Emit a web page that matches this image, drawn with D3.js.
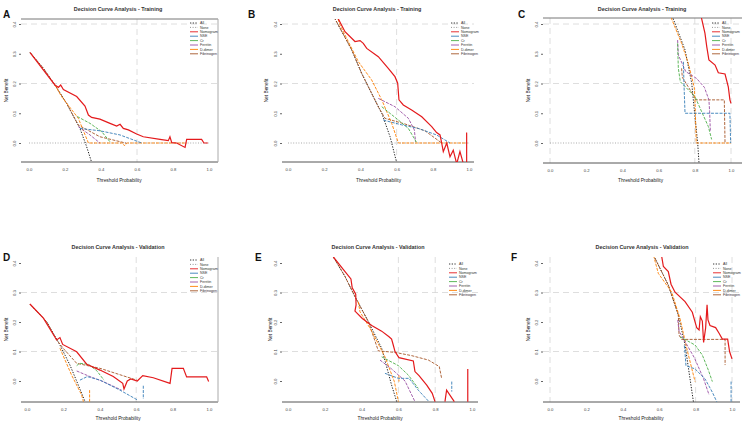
<!DOCTYPE html>
<html>
<head>
<meta charset="utf-8">
<script src="https://cdn.jsdelivr.net/npm/d3@7"></script>
<style>
body { margin: 0; background: #fff; }
svg { display: block; font-family: "Liberation Sans", Arial, sans-serif; }
</style>
</head>
<body>
<script>
// threshold probability / net benefit pairs, null = gap in the curve
var seriesNames = ['All', 'None', 'Nomogram', 'NSE', 'Cr', 'Ferritin', 'D-dimer', 'Fibrinogen'];
var xTicks = [0, 0.2, 0.4, 0.6, 0.8, 1.0];
var yTicks = [0, 0.1, 0.2, 0.3, 0.4];
var titleTrain = 'Decision Curve Analysis - Training';
var titleValid = 'Decision Curve Analysis - Validation';

var curvesA = {
    All: [[0.006,0.304],[0.080,0.251],[0.144,0.195],[0.209,0.133],[0.283,0.049],[0.320,-0.012],[0.348,-0.065]],
    None: [[0,0],[1,0]],
    Nomogram: [[0.006,0.304],[0.144,0.195],[0.163,0.187],[0.176,0.195],[0.191,0.180],[0.265,0.156],[0.311,0.124],[0.330,0.094],[0.348,0.086],[0.394,0.080],[0.450,0.066],[0.487,0.057],[0.506,0.063],[0.524,0.049],[0.552,0.044],[0.598,0.030],[0.635,0.021],[0.728,0.012],[0.774,0.008],[0.783,0.021],[0.793,0.001],[0.820,0],[0.867,-0.015],[0.876,0.012],[0.959,0.012],[0.972,0],[0.994,0]],
    NSE: [[0.283,0.049],[0.394,0.041],[0.506,0.027],[0.626,0]],
    Cr: [[0.268,0.089],[0.339,0.066],[0.404,0.038],[0.450,0.004]],
    Ferritin: [[0.274,0.055],[0.339,0.027],[0.394,0]],
    'D-dimer': [[0.144,0.195],[0.181,0.156],[0.274,0.083],[0.330,0],[0.520,0],[0.530,-0.009],[0.545,0],[0.876,0]],
    Fibrinogen: [[0.006,0.304],[0.080,0.251],[0.144,0.195],[0.209,0.133],[0.274,0.060],[0.394,0.021],[0.543,-0.001]]
};

var curvesB = {
    All: [[0.200,0.470],[0.260,0.417],[0.352,0.313],[0.407,0.234],[0.462,0.167],[0.518,0.100],[0.564,0.021],[0.600,-0.065]],
    None: [[0,0],[1,0]],
    Nomogram: [[0.270,0.450],[0.278,0.417],[0.315,0.374],[0.370,0.341],[0.398,0.344],[0.416,0.335],[0.435,0.318],[0.499,0.290],[0.554,0.251],[0.591,0.223],[0.606,0.201],[0.613,0.145],[0.637,0.128],[0.683,0.111],[0.739,0.088],[0.794,0.055],[0.821,0.035],[0.840,0.027],[0.849,0],[0.858,-0.029],[0.877,0],[0.895,-0.046],[0.913,-0.024],[0.932,-0.070],[0.950,-0.029],[0.969,-0.070],[0.987,-0.070],[0.987,0.033],[0.990,0.033]],
    NSE: [[0.527,0.077],[0.628,0.061],[0.720,0.049],[0.821,0.027],[0.895,0]],
    Cr: [[0.518,0.122],[0.610,0.077],[0.665,0.049],[0.711,0.001]],
    Ferritin: [[0.499,0.150],[0.591,0.122],[0.665,0.083],[0.698,0.044],[0.705,0.004]],
    'D-dimer': [[0.270,0.430],[0.287,0.397],[0.389,0.273],[0.462,0.212],[0.518,0.145],[0.573,0.066],[0.610,0],[0.990,0]],
    Fibrinogen: [[0.200,0.470],[0.260,0.417],[0.352,0.313],[0.407,0.234],[0.462,0.167],[0.500,0.120],[0.536,0.083],[0.646,0.064],[0.757,0.041],[0.849,0]]
};

var curvesC = {
    All: [[0.650,0.460],[0.681,0.417],[0.746,0.313],[0.783,0.201],[0.801,0.088],[0.816,0],[0.823,-0.065]],
    None: [[0,0],[1,0]],
    Nomogram: [[0.830,0.450],[0.838,0.417],[0.856,0.369],[0.866,0.324],[0.878,0.279],[0.912,0.262],[0.930,0.236],[0.967,0.232],[0.985,0.189],[0.994,0.145],[1.0,0.133]],
    NSE: [[0.737,0.273],[0.740,0.201],[0.746,0.100],[0.994,0.100],[0.998,0]],
    Cr: [[0.705,0.335],[0.709,0.251],[0.720,0.206],[0.801,0.156],[0.838,0.105],[0.875,0.055],[0.893,0.012]],
    Ferritin: [[0.705,0.346],[0.709,0.296],[0.750,0.240],[0.810,0.217],[0.853,0.187],[0.878,0.145],[0.882,0.105],[0.886,0.038]],
    'D-dimer': [[0.660,0.450],[0.672,0.417],[0.727,0.335],[0.764,0.268],[0.797,0.187],[0.801,0.145],[0.808,0],[1.0,0]],
    Fibrinogen: [[0.727,0.251],[0.731,0.221],[0.797,0.156],[0.805,0.145],[0.963,0.145],[0.967,0]]
};

var curvesD = {
    All: [[0.016,0.261],[0.108,0.201],[0.181,0.122],[0.236,0.054],[0.282,-0.014],[0.319,-0.070]],
    Nomogram: [[0.016,0.261],[0.090,0.213],[0.163,0.139],[0.181,0.147],[0.196,0.124],[0.273,0.099],[0.328,0.057],[0.401,0.037],[0.474,0.015],[0.526,-0.008],[0.533,-0.027],[0.551,0],[0.570,0.007],[0.606,0],[0.636,0.018],[0.694,0.011],[0.786,-0.008],[0.797,0.043],[0.859,0.043],[0.877,0.014],[0.987,0.014],[0.998,-0.002]],
    NSE: [[0.291,0.003],[0.331,0.015],[0.401,0.003],[0.511,-0.031],[0.606,-0.064],null,[0.639,-0.016],[0.639,-0.061]],
    Cr: [[0.273,0.052],[0.288,0.060],[0.337,0.057],[0.383,0.035],[0.423,0.003]],
    Ferritin: [[0.273,0.034],[0.346,0.015],[0.419,-0.002],[0.520,-0.031]],
    'D-dimer': [[0.181,0.111],[0.245,0.020],[0.300,-0.047],[0.310,-0.070],null,[0.344,-0.031],[0.344,-0.070]],
    Fibrinogen: [[0.016,0.261],[0.108,0.201],[0.163,0.139],[0.200,0.110],[0.273,0.060],[0.401,0.043],[0.603,0.003]]
};

var curvesE = {
    All: [[0.220,0.460],[0.246,0.421],[0.310,0.354],[0.364,0.286],[0.437,0.201],[0.509,0.111],[0.563,-0.014],[0.591,-0.070]],
    Nomogram: [[0.246,0.421],[0.310,0.371],[0.342,0.346],[0.349,0.316],[0.368,0.294],[0.370,0.258],[0.364,0.237],[0.404,0.212],[0.455,0.188],[0.509,0.169],[0.549,0.150],[0.563,0.142],[0.572,0.122],[0.582,0.099],[0.603,0.079],[0.681,0.068],[0.690,0.032],[0.712,0.018],[0.754,-0.014],[0.784,-0.042],[0.799,-0.070],null,[0.853,-0.070],[0.862,-0.031],[0.890,-0.057],[0.904,-0.070],null,[0.977,-0.070],[0.977,0.041]],
    NSE: [[0.527,0.026],[0.600,0.009],[0.658,0.009],[0.708,-0.031],[0.766,-0.070],null,[0.890,-0.002],[0.890,-0.036]],
    Cr: [[0.509,0.082],[0.600,0.052],[0.654,0.020],[0.708,-0.025]],
    Ferritin: [[0.500,0.071],[0.563,0.041],[0.636,0],[0.690,-0.070]],
    'D-dimer': [[0.382,0.269],[0.391,0.235],[0.455,0.169],[0.527,0.082],[0.578,-0.002],[0.600,-0.070],null,[0.603,0.020],[0.603,-0.002]],
    Fibrinogen: [[0.220,0.460],[0.246,0.421],[0.310,0.354],[0.364,0.286],[0.437,0.201],[0.491,0.102],[0.582,0.097],[0.672,0.086],[0.763,0.071],[0.822,0.049],[0.835,0.009]]
};

var curvesF = {
    All: [[0.550,0.460],[0.577,0.416],[0.650,0.325],[0.705,0.224],[0.742,0.122],[0.769,0.009],[0.788,-0.070]],
    Nomogram: [[0.610,0.440],[0.614,0.421],[0.623,0.388],[0.650,0.371],[0.665,0.328],[0.687,0.301],[0.742,0.269],[0.782,0.233],[0.806,0.181],[0.819,0.173],[0.826,0.218],[0.837,0.203],[0.844,0.131],[0.855,0.179],[0.863,0.258],[0.868,0.207],[0.879,0.188],[0.910,0.181],[0.929,0.162],[0.947,0.142],[0.976,0.142],[0.987,0.099],[1.0,0.075]],
    NSE: [[0.738,0.120],[0.742,0.094],[0.747,0.052],[0.797,0.041],[0.852,0.007],[0.892,-0.038],[0.916,-0.070],null,[0.995,-0.002],[0.995,-0.070]],
    Cr: [[0.714,0.150],[0.797,0.122],[0.837,0.088],[0.870,0.037],[0.892,-0.002]],
    Ferritin: [[0.702,0.207],[0.709,0.169],[0.793,0.079],[0.843,0.009],[0.874,-0.047]],
    'D-dimer': [[0.565,0.440],[0.573,0.416],[0.595,0.365],[0.669,0.301],[0.714,0.212],[0.756,0.099],[0.797,-0.002]],
    Fibrinogen: [[0.577,0.416],[0.650,0.325],[0.705,0.224],[0.709,0.156],[0.723,0.141],[0.962,0.141],[0.962,0.054]]
};

// line look for every series
var styles = {
    All:        { color: '#222', dash: '1.3,1.4', w: 1.0 },
    None:       { color: '#888', dash: '1,1.6', w: 0.7 },
    Nomogram:   { color: '#e41a1c', dash: null, w: 1.2 },
    NSE:        { color: '#377eb8', dash: '3,1.3', w: 0.9 },
    Cr:         { color: '#4daf4a', dash: '3,1.3', w: 0.9 },
    Ferritin:   { color: '#984ea3', dash: '3,1.3', w: 0.9 },
    'D-dimer':  { color: '#ff7f00', dash: '3,1.3', w: 0.9 },
    Fibrinogen: { color: '#a65628', dash: '3,1.3', w: 0.9 }
};
var drawOrder = ['None', 'All', 'Fibrinogen', 'D-dimer', 'Ferritin', 'Cr', 'NSE', 'Nomogram'];

// panel layout (pixels)
var panels = [
    { key: 'A', data: curvesA, title: titleTrain, xr: [29, 209], yr: [143, 24], box: [21, 218, 19, 162],
      titleX: 118, titleY: 11, letter: [3, 18], yLabX: 6, xLabY: 182, legend: [190, 23],
      hGrid: [0.4, 0.2], vGrid: [0.6], top: true, right: true },
    { key: 'B', data: curvesB, title: titleTrain, xr: [288, 469], yr: [143, 24], box: [282, 474, 19, 162],
      titleX: 377, titleY: 11, letter: [248, 18], yLabX: 266, xLabY: 182, legend: [451, 23],
      hGrid: [0.4, 0.2], vGrid: [0.6], top: false, right: false },
    { key: 'C', data: curvesC, title: titleTrain, xr: [550, 731], yr: [143, 24], box: [543, 742, 18, 163],
      titleX: 642, titleY: 11, letter: [518, 18], yLabX: 528, xLabY: 182, legend: [712, 23],
      hGrid: [0.4, 0.2], vGrid: [0, 0.8, 1.0], top: true, right: false },
    { key: 'D', data: curvesD, title: titleValid, xr: [27, 209], yr: [381, 263], box: [21, 218, 257, 402],
      titleX: 118, titleY: 249, letter: [3, 261], yLabX: 6, xLabY: 420, legend: [190, 260],
      hGrid: [0.3, 0.1], vGrid: [0.6], top: false, right: true },
    { key: 'E', data: curvesE, title: titleValid, xr: [288, 472], yr: [381, 263], box: [282, 478, 257, 402],
      titleX: 378, titleY: 249, letter: [255, 261], yLabX: 270, xLabY: 420, legend: [449, 264],
      hGrid: [0.3, 0.1], vGrid: [0.6, 0.8], top: false, right: false },
    { key: 'F', data: curvesF, title: titleValid, xr: [550, 732], yr: [381, 263], box: [543, 740, 257, 402],
      titleX: 642, titleY: 249, letter: [511, 261], yLabX: 528, xLabY: 420, legend: [713, 264],
      hGrid: [0.3, 0.1], vGrid: [0, 0.8, 1.0], top: false, right: false }
];

var svg = d3.select('body').append('svg')
    .attr('width', 744)
    .attr('height', 423);

svg.append('rect').attr('width', 744).attr('height', 423).attr('fill', '#fff');

panels.forEach(function(p) {
    var x = d3.scaleLinear().domain([0, 1]).range(p.xr);
    var y = d3.scaleLinear().domain([0, 0.4]).range(p.yr);
    var l = p.box[0], r = p.box[1], t = p.box[2], b = p.box[3];
    var g = svg.append('g');

    svg.append('clipPath').attr('id', 'clip' + p.key)
        .append('rect')
        .attr('x', l).attr('y', t)
        .attr('width', r - l).attr('height', b - t);

    // dashed grid
    g.selectAll('.hgrid').data(p.hGrid).enter().append('line')
        .attr('x1', l).attr('x2', r)
        .attr('y1', function(d) { return y(d); })
        .attr('y2', function(d) { return y(d); })
        .attr('stroke', '#d6d6d6').attr('stroke-width', 0.8).attr('stroke-dasharray', '6,4');
    g.selectAll('.vgrid').data(p.vGrid).enter().append('line')
        .attr('y1', t).attr('y2', b)
        .attr('x1', function(d) { return x(d); })
        .attr('x2', function(d) { return x(d); })
        .attr('stroke', '#d6d6d6').attr('stroke-width', 0.8).attr('stroke-dasharray', '6,4');

    // frame
    g.append('line').attr('x1', l).attr('x2', r).attr('y1', b).attr('y2', b)
        .attr('stroke', '#555').attr('stroke-width', 1);
    if (p.top) g.append('line').attr('x1', l).attr('x2', r).attr('y1', t).attr('y2', t)
        .attr('stroke', '#777').attr('stroke-width', 1);
    if (p.right) g.append('line').attr('x1', r).attr('x2', r).attr('y1', t).attr('y2', b)
        .attr('stroke', '#aaa').attr('stroke-width', 1);

    // curves
    var line = d3.line()
        .defined(function(d) { return d !== null; })
        .x(function(d) { return x(d[0]); })
        .y(function(d) { return y(d[1]); });
    var plot = g.append('g').attr('clip-path', 'url(#clip' + p.key + ')');
    drawOrder.forEach(function(name) {
        if (!p.data[name]) return;
        var s = styles[name];
        plot.append('path').datum(p.data[name])
            .attr('d', line)
            .attr('fill', 'none')
            .attr('stroke', s.color)
            .attr('stroke-width', s.w)
            .attr('stroke-dasharray', s.dash);
    });

    // axes
    var yAxis = g.append('g').attr('transform', 'translate(' + l + ',0)')
        .call(d3.axisLeft(y).tickValues(yTicks).tickFormat(d3.format('.1f')).tickSize(2));
    yAxis.select('.domain').remove();
    yAxis.selectAll('line').attr('stroke', '#666');
    yAxis.selectAll('text')
        .attr('transform', 'rotate(-90)')
        .attr('x', 0).attr('y', -5).attr('dy', 0)
        .attr('text-anchor', 'middle')
        .attr('font-size', 4.2).attr('fill', '#444');

    var xAxis = g.append('g').attr('transform', 'translate(0,' + b + ')')
        .call(d3.axisBottom(x).tickValues(xTicks).tickFormat(d3.format('.1f')).tickSize(0).tickPadding(6));
    xAxis.select('.domain').remove();
    xAxis.selectAll('text').attr('font-size', 4.2).attr('fill', '#444');

    // titles and labels
    g.append('text').attr('x', p.titleX).attr('y', p.titleY)
        .attr('text-anchor', 'middle').attr('font-size', 5.4).attr('font-weight', 'bold')
        .attr('fill', '#333').text(p.title);
    g.append('text').attr('x', p.letter[0]).attr('y', p.letter[1])
        .attr('font-size', 10).attr('font-weight', 'bold').attr('fill', '#111').text(p.key);
    g.append('text').attr('x', (p.xr[0] + p.xr[1]) / 2).attr('y', p.xLabY)
        .attr('text-anchor', 'middle').attr('font-size', 4.8).attr('fill', '#222')
        .text('Threshold Probability');
    g.append('text')
        .attr('transform', 'translate(' + p.yLabX + ',' + ((t + b) / 2) + ') rotate(-90)')
        .attr('text-anchor', 'middle').attr('dy', '0.35em')
        .attr('font-size', 4.8).attr('fill', '#222').text('Net Benefit');

    // legend
    var leg = g.append('g').attr('transform', 'translate(' + p.legend[0] + ',' + p.legend[1] + ')');
    seriesNames.forEach(function(name, i) {
        var s = styles[name];
        var ly = i * 4.4;
        leg.append('line').attr('x1', 0).attr('x2', 8).attr('y1', ly).attr('y2', ly)
            .attr('stroke', s.color).attr('stroke-width', 0.9)
            .attr('stroke-dasharray', name === 'All' || name === 'None' ? s.dash : null);
        leg.append('text').attr('x', 10).attr('y', ly).attr('dy', '0.35em')
            .attr('font-size', 3.6).attr('fill', '#333').text(name);
    });
});
</script>
</body>
</html>
